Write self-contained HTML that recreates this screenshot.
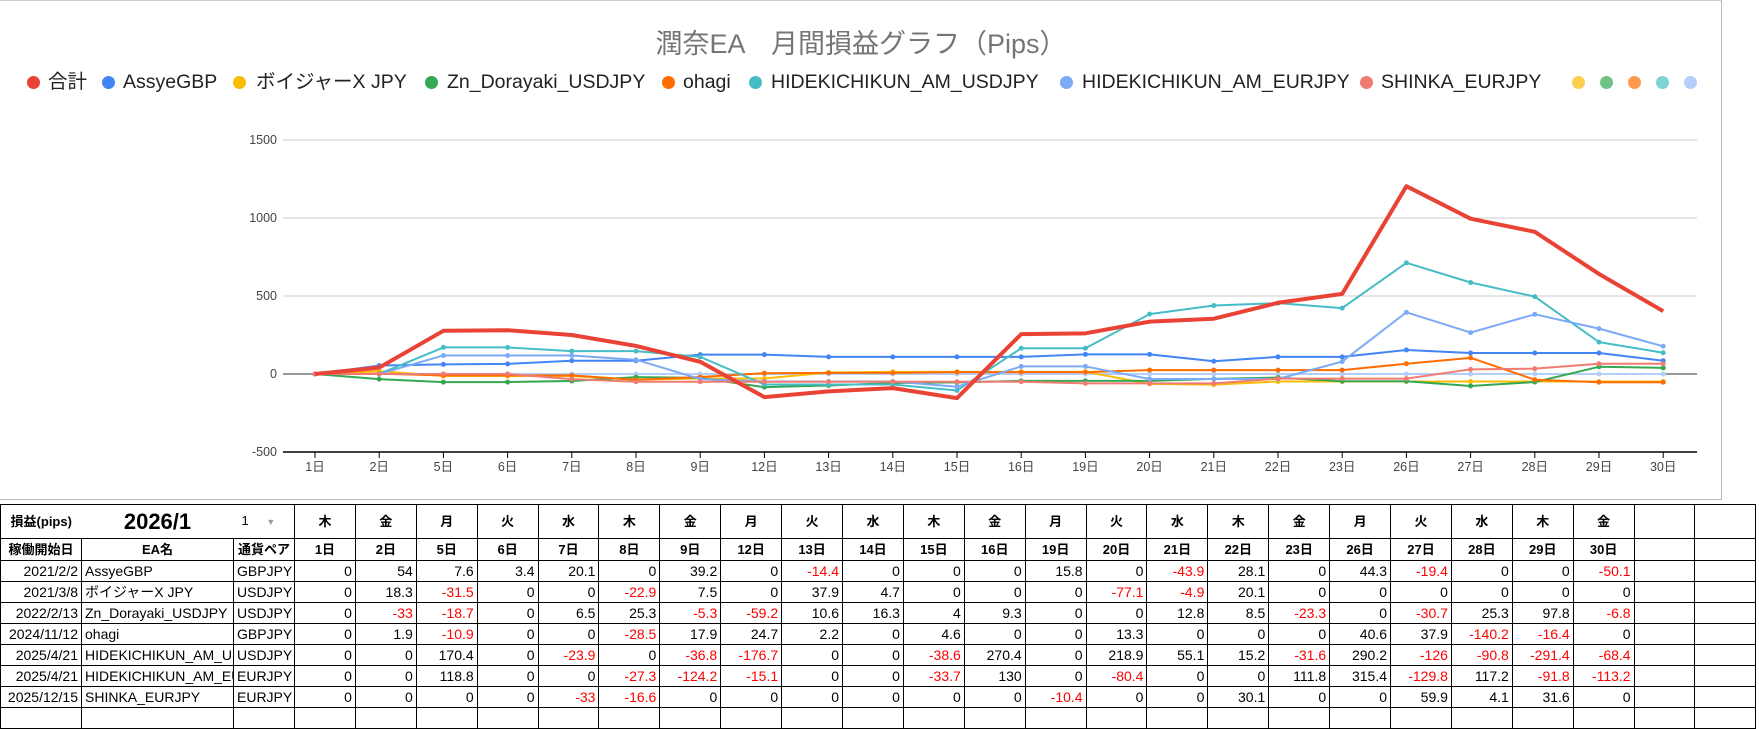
<!DOCTYPE html>
<html><head><meta charset="utf-8"><style>
body{margin:0;width:1759px;height:709px;overflow:hidden;background:#fff;font-family:"Liberation Sans","Noto Sans CJK JP",sans-serif;position:relative}
#box{position:absolute;left:0;top:0;width:1721px;height:498px;border:1px solid #bbb;border-left:none;border-top:1px solid #ccc}
.lg{position:absolute;top:70px;font-size:19.5px;color:#222;white-space:nowrap;line-height:24px}
.dot{position:absolute;top:76px;width:13px;height:13px;border-radius:50%}
table{position:absolute;left:0;top:504px;width:1756px;border-collapse:collapse;table-layout:fixed;font-size:14px}
td{border:1px solid #000;height:21px;padding:0 3px;text-align:right;white-space:nowrap;overflow:hidden;line-height:18px;box-sizing:border-box}
tr.h1 td{height:34px;text-align:center;font-weight:bold;font-size:13px}
tr.h2 td{height:22px;text-align:center;font-weight:bold;font-size:13px}
td.l{text-align:left}
.r{color:#f00}
</style></head><body>
<div id="box"></div>
<div style="position:absolute;left:0;width:1722px;top:22px;text-align:center;font-size:27px;color:#757575">潤奈EA　月間損益グラフ（Pips）</div>
<div class="dot" style="left:27px;background:#ea4335"></div><div class="lg" style="left:48px">合計</div>
<div class="dot" style="left:102px;background:#4285f4"></div><div class="lg" style="left:123px">AssyeGBP</div>
<div class="dot" style="left:233px;background:#fbbc04"></div><div class="lg" style="left:256px">ボイジャーX JPY</div>
<div class="dot" style="left:425px;background:#34a853"></div><div class="lg" style="left:447px">Zn_Dorayaki_USDJPY</div>
<div class="dot" style="left:662px;background:#ff6d01"></div><div class="lg" style="left:683px">ohagi</div>
<div class="dot" style="left:749px;background:#46bdc6"></div><div class="lg" style="left:771px">HIDEKICHIKUN_AM_USDJPY</div>
<div class="dot" style="left:1060px;background:#7baaf7"></div><div class="lg" style="left:1082px">HIDEKICHIKUN_AM_EURJPY</div>
<div class="dot" style="left:1360px;background:#f07b72"></div><div class="lg" style="left:1381px">SHINKA_EURJPY</div>
<div class="dot" style="left:1572px;background:#fcd04f"></div>
<div class="dot" style="left:1600px;background:#71c287"></div>
<div class="dot" style="left:1628px;background:#ff994d"></div>
<div class="dot" style="left:1656px;background:#7ed1d7"></div>
<div class="dot" style="left:1684px;background:#b3cefb"></div>
<svg id="ch" width="1759" height="500" style="position:absolute;left:0;top:0" font-family="Liberation Sans, Noto Sans CJK JP, sans-serif" font-size="12.5" fill="#444">
<g stroke="#ccc" stroke-width="1">
<line x1="283" x2="1697" y1="140" y2="140"/><line x1="283" x2="1697" y1="218" y2="218"/><line x1="283" x2="1697" y1="296" y2="296"/>
</g>
<line x1="283" x2="1697" y1="374" y2="374" stroke="#333"/>
<line x1="283" x2="1697" y1="452" y2="452" stroke="#000" stroke-width="1.5"/>
<g text-anchor="end"><text x="277" y="144">1500</text><text x="277" y="222">1000</text><text x="277" y="300">500</text><text x="277" y="378">0</text><text x="277" y="456">-500</text></g>
<g id="xl" text-anchor="middle"></g>
<g id="ln"></g>
</svg>
<table>
<colgroup><col style="width:81px"><col style="width:152px"><col style="width:61px">
<col span="24" style="width:60.9px"></colgroup>
<tr class="h1"><td style="border-right:none;font-size:13px">損益(pips)</td><td style="border-left:none;border-right:none;font-size:22px">2026/1</td><td style="border-left:none;font-weight:normal;text-align:left;padding-left:8px">1 <span style="color:#999;font-size:9px;margin-left:14px">▼</span></td><td>木</td><td>金</td><td>月</td><td>火</td><td>水</td><td>木</td><td>金</td><td>月</td><td>火</td><td>水</td><td>木</td><td>金</td><td>月</td><td>火</td><td>水</td><td>木</td><td>金</td><td>月</td><td>火</td><td>水</td><td>木</td><td>金</td><td></td><td></td></tr>
<tr class="h2"><td>稼働開始日</td><td>EA名</td><td class="l">通貨ペア</td><td>1日</td><td>2日</td><td>5日</td><td>6日</td><td>7日</td><td>8日</td><td>9日</td><td>12日</td><td>13日</td><td>14日</td><td>15日</td><td>16日</td><td>19日</td><td>20日</td><td>21日</td><td>22日</td><td>23日</td><td>26日</td><td>27日</td><td>28日</td><td>29日</td><td>30日</td><td></td><td></td></tr>
<tbody id="tb"></tbody>
</table>
<div id="rows" style="display:none">
2021/2/2|AssyeGBP|GBPJPY|0,54,7.6,3.4,20.1,0,39.2,0,-14.4,0,0,0,15.8,0,-43.9,28.1,0,44.3,-19.4,0,0,-50.1
2021/3/8|ボイジャーX JPY|USDJPY|0,18.3,-31.5,0,0,-22.9,7.5,0,37.9,4.7,0,0,0,-77.1,-4.9,20.1,0,0,0,0,0,0
2022/2/13|Zn_Dorayaki_USDJPY|USDJPY|0,-33,-18.7,0,6.5,25.3,-5.3,-59.2,10.6,16.3,4,9.3,0,0,12.8,8.5,-23.3,0,-30.7,25.3,97.8,-6.8
2024/11/12|ohagi|GBPJPY|0,1.9,-10.9,0,0,-28.5,17.9,24.7,2.2,0,4.6,0,0,13.3,0,0,0,40.6,37.9,-140.2,-16.4,0
2025/4/21|HIDEKICHIKUN_AM_US|USDJPY|0,0,170.4,0,-23.9,0,-36.8,-176.7,0,0,-38.6,270.4,0,218.9,55.1,15.2,-31.6,290.2,-126,-90.8,-291.4,-68.4
2025/4/21|HIDEKICHIKUN_AM_EU|EURJPY|0,0,118.8,0,0,-27.3,-124.2,-15.1,0,0,-33.7,130,0,-80.4,0,0,111.8,315.4,-129.8,117.2,-91.8,-113.2
2025/12/15|SHINKA_EURJPY|EURJPY|0,0,0,0,-33,-16.6,0,0,0,0,0,0,-10.4,0,0,30.1,0,0,59.9,4.1,31.6,0
</div>
<script>
var days=[1,2,5,6,7,8,9,12,13,14,15,16,19,20,21,22,23,26,27,28,29,30];
var X=function(i){return 315+i*64.2},Y=function(v){return 374-v*0.156};
var ns="http://www.w3.org/2000/svg",xl=document.getElementById('xl'),ln=document.getElementById('ln');
days.forEach(function(d,i){var t=document.createElementNS(ns,'line');t.setAttribute('x1',X(i));t.setAttribute('x2',X(i));t.setAttribute('y1',452);t.setAttribute('y2',458);t.setAttribute('stroke','#000');xl.appendChild(t);
var s=document.createElementNS(ns,'text');s.setAttribute('x',X(i));s.setAttribute('y',471);s.textContent=d+'日';xl.appendChild(s);});
var rows=document.getElementById('rows').textContent.trim().split('\n').map(function(r){return r.split('|')});
var tb=document.getElementById('tb'),html='';
rows.forEach(function(r){html+='<tr><td>'+r[0]+'</td><td class="l">'+r[1]+'</td><td class="l">'+r[2]+'</td>';
r[3].split(',').forEach(function(v){html+='<td'+(parseFloat(v)<0?' class="r"':'')+'>'+v+'</td>'});html+='<td></td><td></td></tr>';});
html+='<tr>'+new Array(28).join('<td></td>')+'</tr>';tb.innerHTML=html;
var cols=['#4285f4','#fbbc04','#34a853','#ff6d01','#46bdc6','#7baaf7','#f07b72'];
var tot=days.map(function(){return 0});
function draw(vals,c,w,dots){var p=vals.map(function(v,i){return X(i)+','+Y(v)}).join(' ');
var pl=document.createElementNS(ns,'polyline');pl.setAttribute('points',p);pl.setAttribute('fill','none');pl.setAttribute('stroke',c);pl.setAttribute('stroke-width',w);pl.setAttribute('stroke-linejoin','round');ln.appendChild(pl);
if(dots)vals.forEach(function(v,i){var ci=document.createElementNS(ns,'circle');ci.setAttribute('cx',X(i));ci.setAttribute('cy',Y(v));ci.setAttribute('r',2.5);ci.setAttribute('fill',c);ln.appendChild(ci);});}
draw(days.map(function(){return 0}),'#b3cefb',2,true);
rows.forEach(function(r,k){var s=0;var cum=r[3].split(',').map(function(v,i){s+=parseFloat(v);tot[i]+=s;return s});draw(cum,cols[k],2,true);});
draw(tot,'#ea4335',4,false);
</script>
</body></html>
